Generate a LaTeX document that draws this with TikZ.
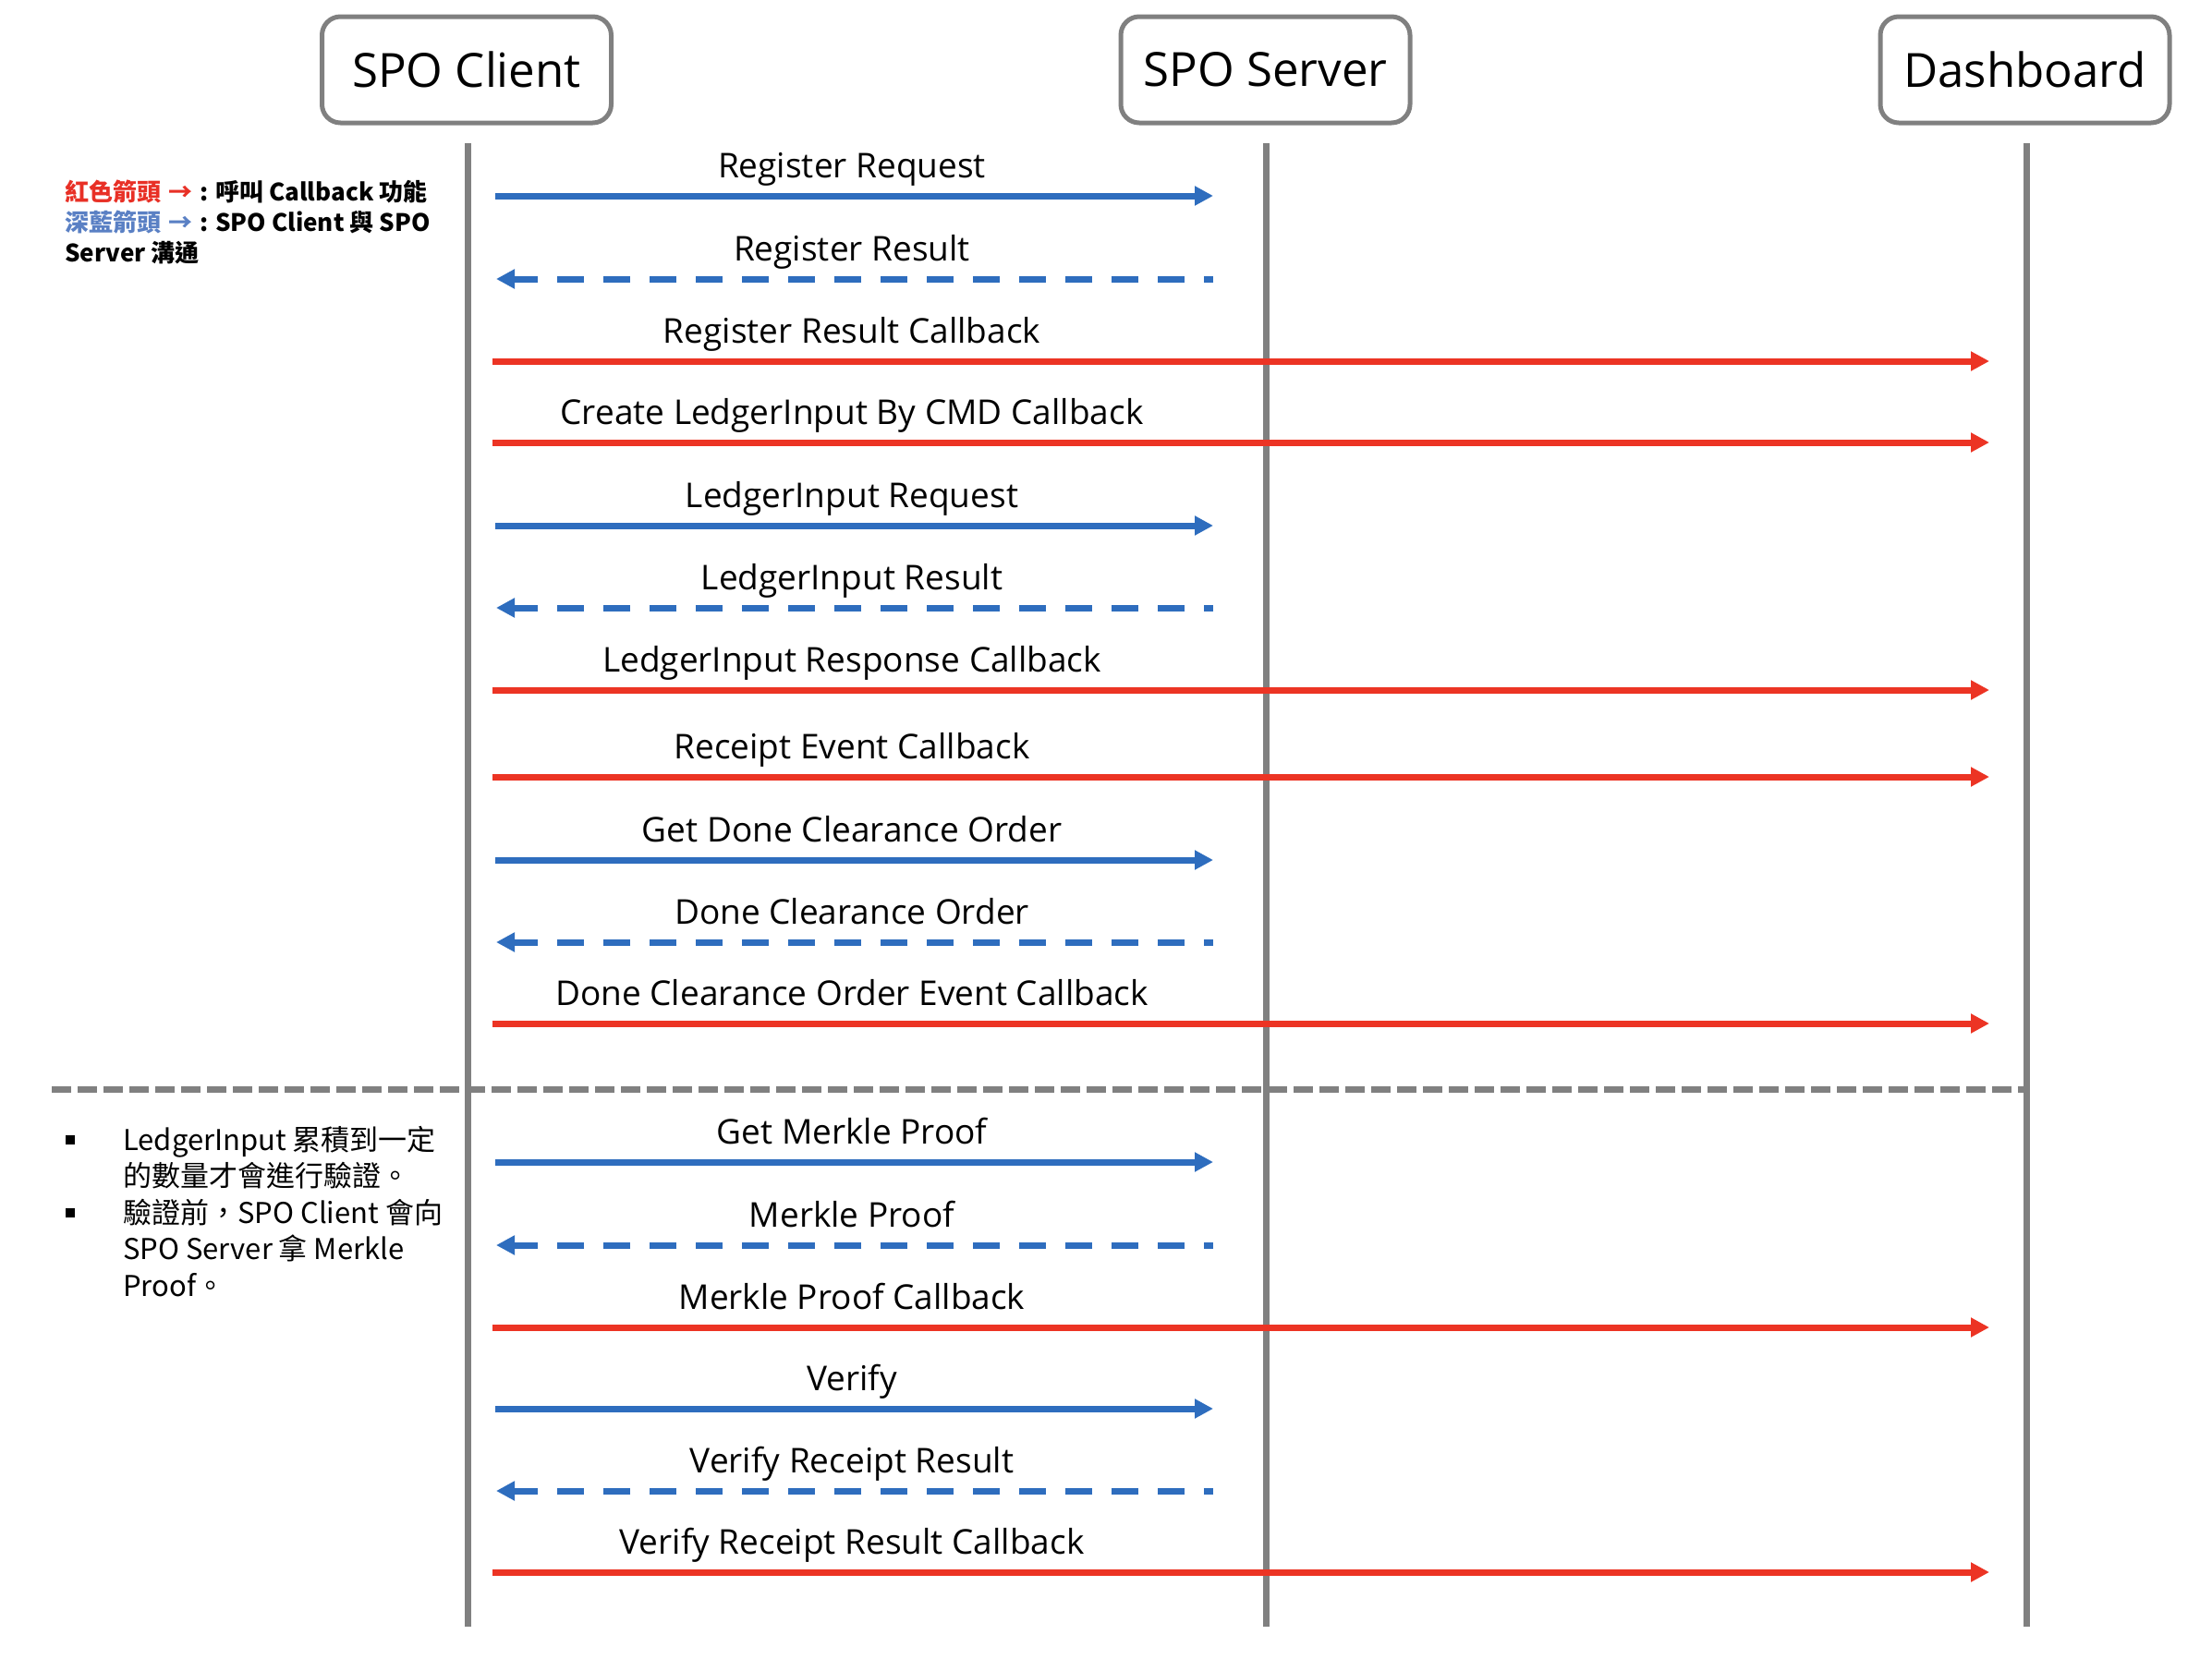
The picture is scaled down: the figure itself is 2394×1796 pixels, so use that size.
\documentclass[tikz,border=0pt]{standalone}
\usepackage{fontspec}
\setmainfont{Open Sans}
\newfontfamily\cjk{Noto Sans CJK TC}
\usetikzlibrary{arrows.meta}
\definecolor{lgrey}{RGB}{128,128,128}
\definecolor{mblue}{RGB}{46,109,190}
\definecolor{mred}{RGB}{236,52,36}
\definecolor{legblue}{RGB}{90,128,196}
\definecolor{legred}{RGB}{232,48,38}
\begin{document}
\begin{tikzpicture}[x=1pt,y=-1pt,
  actor/.style={draw=lgrey, line width=5pt, rounded corners=20pt, minimum width=313pt, minimum height=115pt, inner sep=0pt, fill=white, font=\fontsize{51}{60}\selectfont},
  lifeline/.style={draw=lgrey, line width=7pt},
  bluemsg/.style={color=mblue, line width=7pt, -{Triangle[length=20pt,width=20pt]}},
  bluedash/.style={bluemsg, dash pattern=on 29pt off 21pt, dash phase=19pt},
  redmsg/.style={color=mred, line width=7pt, -{Triangle[length=20pt,width=20pt]}},
  msglabel/.style={anchor=base, inner sep=0pt, font=\fontsize{37}{44}\selectfont},
  legend/.style={anchor=base west, inner sep=0pt, font=\cjk\bfseries\fontsize{26}{30}\selectfont},
  note/.style={anchor=base west, inner sep=0pt, font=\cjk\fontsize{31}{38}\selectfont},
  bullet/.style={fill=black, minimum size=9.5pt, inner sep=0pt},
  sep/.style={draw=lgrey, line width=7pt, dash pattern=on 21pt off 7pt}
]
\useasboundingbox (0,0) rectangle (2394,1796);

% actors
\node[actor] (client) at (505,75.5) {SPO Client};
\node[actor] (server) at (1369.5,75.5) {SPO Server};
\node[actor] (dash) at (2191.5,75.5) {Dashboard};

% separator
\coordinate (sepL) at (56,1179);
\coordinate (sepR) at (2193,1179);
\draw[sep] (sepL) -- (sepR);

% lifelines
\coordinate (clientTop) at (506,155);
\coordinate (clientBot) at (506,1761);
\coordinate (serverTop) at (1370,155);
\coordinate (serverBot) at (1370,1761);
\coordinate (dashTop) at (2193,155);
\coordinate (dashBot) at (2193,1761);
\draw[lifeline] (clientTop) -- (clientBot);
\draw[lifeline] (serverTop) -- (serverBot);
\draw[lifeline] (dashTop) -- (dashBot);

% requests (blue solid)
\foreach \y/\t [count=\i] in {212/Register Request, 569/LedgerInput Request, 931/Get Done Clearance Order, 1258/Get Merkle Proof, 1525/Verify}{
  \coordinate (bs\i) at (536,\y);
  \coordinate (be\i) at (1313,\y);
  \draw[bluemsg] (bs\i) -- (be\i);
  \node[msglabel] (bl\i) at (922,\y-20) {\t};
}
% results (blue dashed)
\foreach \y/\t [count=\i] in {302/Register Result, 658/LedgerInput Result, 1020/Done Clearance Order, 1348/Merkle Proof, 1614/Verify Receipt Result}{
  \coordinate (ds\i) at (1313,\y);
  \coordinate (de\i) at (537,\y);
  \draw[bluedash] (ds\i) -- (de\i);
  \node[msglabel] (dl\i) at (922,\y-20) {\t};
}
% callbacks (red)
\foreach \y/\t [count=\i] in {391/Register Result Callback, 479/Create LedgerInput By CMD Callback, 747/LedgerInput Response Callback, 841/Receipt Event Callback, 1108/Done Clearance Order Event Callback, 1437/Merkle Proof Callback, 1702/Verify Receipt Result Callback}{
  \coordinate (rs\i) at (533,\y);
  \coordinate (re\i) at (2153,\y);
  \draw[redmsg] (rs\i) -- (re\i);
  \node[msglabel] (rl\i) at (922,\y-20) {\t};
}

% legend
\node[legend] (leg1) at (70,217) {\textcolor{legred}{紅色箭頭\hspace{8pt}→}\hspace{8pt}: 呼叫 Callback 功能};
\node[legend] (leg2) at (70,250) {\textcolor{legblue}{深藍箭頭\hspace{8pt}→}\hspace{8pt}: SPO Client 與 SPO};
\node[legend] (leg3) at (70,283) {Server 溝通};

% notes
\node[bullet] (bul1) at (76,1234) {};
\node[bullet] (bul2) at (76,1313) {};
\node[note] (n1) at (133,1245) {LedgerInput 累積到一定};
\node[note] (n2) at (133,1284.5) {的數量才會進行驗證。};
\node[note] (n3) at (133,1324) {驗證前，SPO Client 會向};
\node[note] (n4) at (133,1363.5) {SPO Server 拿 Merkle};
\node[note] (n5) at (133,1403) {Proof。};
\end{tikzpicture}
\end{document}
